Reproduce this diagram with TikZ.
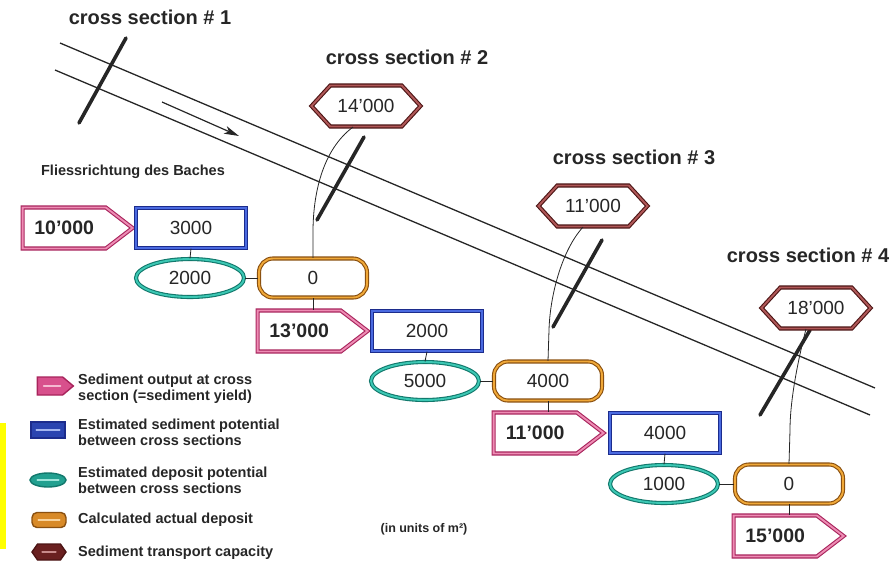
\documentclass[tikz,border=0pt]{standalone}
\usepackage{fontspec}
\setmainfont{Liberation Sans}
\usetikzlibrary{shapes.symbols,shapes.geometric,arrows.meta,calc}

\definecolor{ink}{HTML}{262626}
\definecolor{pinkD}{HTML}{A8245C}
\definecolor{pinkL}{HTML}{EE8CB4}
\definecolor{pinkM}{HTML}{D8508C}
\definecolor{blueD}{HTML}{1C2C8C}
\definecolor{blueL}{HTML}{4A6AE0}
\definecolor{blueM}{HTML}{2A44B0}
\definecolor{tealD}{HTML}{12786C}
\definecolor{tealL}{HTML}{3CC8B4}
\definecolor{tealM}{HTML}{22A090}
\definecolor{orgD}{HTML}{8A5010}
\definecolor{orgL}{HTML}{F0A838}
\definecolor{orgM}{HTML}{D88A28}
\definecolor{marD}{HTML}{4C1414}
\definecolor{marL}{HTML}{B05858}
\definecolor{marM}{HTML}{6A2020}
\definecolor{marker}{HTML}{FFFF00}

\tikzset{
  framed/.style={line width=1.1pt, double distance=1.9pt, fill=white, inner sep=0pt,
    text=ink, font=\fontsize{19}{22}\selectfont},
  outbox/.style={framed, signal, signal to=east, signal pointer angle=75,
    draw=pinkD, double=pinkL, minimum width=110pt, minimum height=41pt,
    font=\fontsize{19.5}{22}\selectfont\bfseries},
  potbox/.style={framed, rectangle, draw=blueD, double=blueL,
    minimum width=110pt, minimum height=40pt},
  depell/.style={framed, ellipse, draw=tealD, double=tealL,
    minimum width=108pt, minimum height=38pt},
  actbox/.style={framed, rectangle, rounded corners=14pt, draw=orgD, double=orgL,
    minimum width=108pt, minimum height=39pt},
  capbox/.style={framed, signal, signal to=east and west, signal pointer angle=95,
    draw=marD, double=marL, minimum width=109pt, minimum height=41pt},
  link/.style={draw=ink, line width=0.8pt},
  river/.style={draw=ink, line width=1.3pt},
  csmark/.style={draw=ink, line width=3.6pt, line cap=round},
  cslabel/.style={text=ink, font=\fontsize{20}{22}\selectfont\bfseries},
  legtext/.style={text=ink, anchor=west, align=left, inner sep=0pt,
    font=\fontsize{14.5}{16}\selectfont\bfseries},
  legicon/.style={line width=1.4pt, inner sep=0pt},
  gleam/.style={line width=1.6pt, line cap=round},
}

\begin{document}
\begin{tikzpicture}[x=1pt,y=-1pt]
\useasboundingbox (0,0) rectangle (896,563);

% yellow edge marker
\fill[marker] (0,423) rectangle (6,549);

% the stream banks
\draw[river] (60,43) -- (875,388);
\draw[river] (55,70) -- (870,415);
% flow direction
\coordinate (fa) at (162,102);
\coordinate (fb) at (239,136);
\draw[link, line width=1.2pt, -{Stealth[length=15pt,width=8pt,inset=4pt]}] (fa) -- (fb);

% cross section strokes
\coordinate (s1a) at (126,38);  \coordinate (s1b) at (79,123);
\coordinate (s2a) at (364,137); \coordinate (s2b) at (317,220);
\coordinate (s3a) at (602,240); \coordinate (s3b) at (553,327);
\coordinate (s4a) at (810,330); \coordinate (s4b) at (760,415);
\draw[csmark] (s1a) -- (s1b);
\draw[csmark] (s2a) -- (s2b);
\draw[csmark] (s3a) -- (s3b);
\draw[csmark] (s4a) -- (s4b);

% section labels
\node[cslabel] (cs1) at (150,17) {cross section \# 1};
\node[cslabel] (cs2) at (407,57) {cross section \# 2};
\node[cslabel] (cs3) at (634,157) {cross section \# 3};
\node[cslabel] (cs4) at (808,255) {cross section \# 4};

\node[text=ink, font=\fontsize{14.5}{16}\selectfont\bfseries] (flow) at (133,172) {Fliessrichtung des Baches};

% transport capacities
\node[capbox] (h1) at (366,106) {14'000};
\node[capbox] (h2) at (593,206) {11'000};
\node[capbox] (h3) at (816,308) {18'000};

% section 1 -> 2
\node[outbox, anchor=west] (o1) at (22,228) {10'000};
\node[potbox] (p1) at (191,228) {3000};
\node[depell] (e1) at (190,278) {2000};
\node[actbox] (d1) at (313,278) {0};

% section 2 -> 3
\node[outbox, anchor=west] (o2) at (257,331) {13'000};
\node[potbox] (p2) at (427,331) {2000};
\node[depell] (e2) at (425,381) {5000};
\node[actbox] (d2) at (548,381) {4000};

% section 3 -> 4
\node[outbox, anchor=west] (o3) at (493,433) {11'000};
\node[potbox] (p3) at (665,433) {4000};
\node[depell] (e3) at (664,484) {1000};
\node[actbox] (d3) at (789,484) {0};

% section 4
\node[outbox, anchor=west] (o4) at (733,536) {15'000};

% connectors
\draw[link] (p1.south) -- (e1.north);
\draw[link] (e1.east) -- (d1.west);
\draw[link] (d1.south) -- (d1.south |- o2.north);
\draw[link] (p2.south) -- (e2.north);
\draw[link] (e2.east) -- (d2.west);
\draw[link] (d2.south) -- (d2.south |- o3.north);
\draw[link] (p3.south) -- (e3.north);
\draw[link] (e3.east) -- (d3.west);
\draw[link] (d3.south) -- (d3.south |- o4.north);

\coordinate (k1) at (313,232);
\coordinate (k2) at (549,330);
\coordinate (k3) at (790,430);
\draw[link] ($(h1.south)+(-13,0)$) .. controls (322,150) and (313,195) .. (k1) -- (d1.north);
\draw[link] ($(h2.south)+(-10,0)$) .. controls (562,250) and (550,295) .. (k2) -- (d2.north);
\draw[link] ($(h3.south)+(-10,0)$) .. controls (798,360) and (790,400) .. (k3) -- (d3.north);

% legend
\node[legicon, signal, signal to=east, signal pointer angle=80, fill=pinkM, draw=pinkD,
  minimum width=36pt, minimum height=18pt] (ic1) at (50,386) {};
\node[legicon, rectangle, fill=blueM, draw=blueD,
  minimum width=34pt, minimum height=16pt] (ic2) at (48,430) {};
\node[legicon, ellipse, fill=tealM, draw=tealD,
  minimum width=36pt, minimum height=14pt] (ic3) at (48,480) {};
\node[legicon, rectangle, rounded corners=5pt, fill=orgM, draw=orgD,
  minimum width=34pt, minimum height=15pt] (ic4) at (49,520) {};
\node[legicon, signal, signal to=east and west, signal pointer angle=110, fill=marM, draw=marD,
  minimum width=34pt, minimum height=16pt] (ic5) at (49,552) {};
\draw[gleam, draw=pinkL!60!white] ([xshift=7pt]ic1.west) -- ([xshift=-14pt]ic1.east);
\draw[gleam, draw=blueL!50!white] ([xshift=6pt]ic2.west) -- ([xshift=-6pt]ic2.east);
\draw[gleam, draw=tealL!50!white] ([xshift=8pt]ic3.west) -- ([xshift=-8pt]ic3.east);
\draw[gleam, draw=orgL!50!white] ([xshift=7pt]ic4.west) -- ([xshift=-7pt]ic4.east);
\draw[gleam, draw=marL!70!white] ([xshift=11pt]ic5.west) -- ([xshift=-11pt]ic5.east);

\node[legtext] (l1) at (78,389) {Sediment output at cross\\section (=sediment yield)};
\node[legtext] (l2) at (78,432) {Estimated sediment potential\\between cross sections};
\node[legtext] (l3) at (78,480) {Estimated deposit potential\\between cross sections};
\node[legtext] (l4) at (78,520) {Calculated actual deposit};
\node[legtext] (l5) at (78,553) {Sediment transport capacity};

\node[text=ink, font=\fontsize{12.5}{14}\selectfont\bfseries] (units) at (424,529) {(in units of m²)};
\end{tikzpicture}
\end{document}
